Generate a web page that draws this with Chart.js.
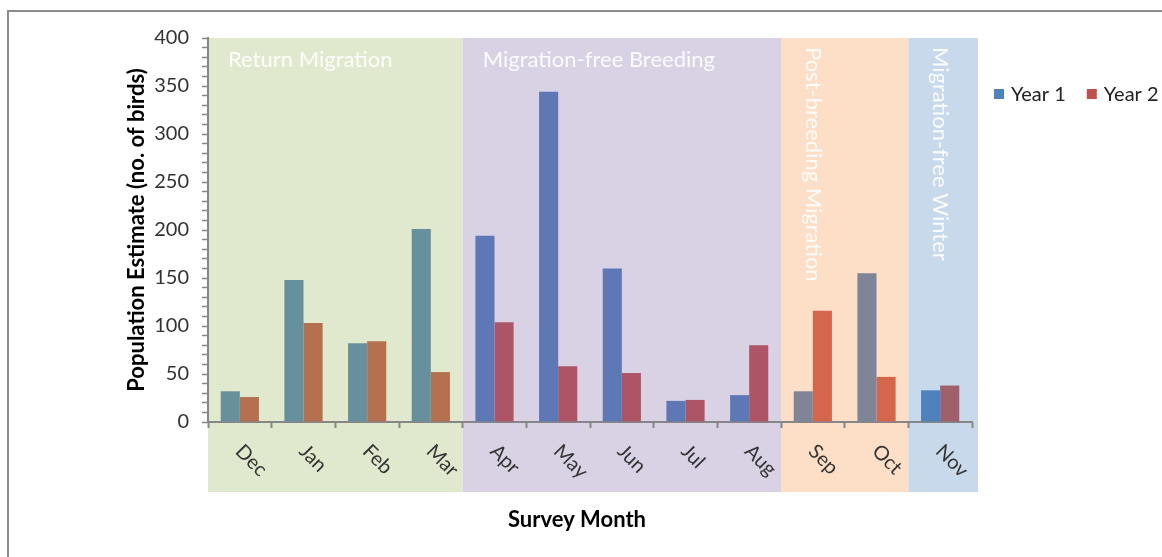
<!DOCTYPE html>
<html>
<head>
<meta charset="utf-8">
<title>Population estimate by survey month</title>
<script src="https://cdn.jsdelivr.net/npm/chart.js@4.4.1/dist/chart.umd.min.js"></script>
<style>
  body { margin: 0; background: #fff; }
  #wrap { width: 1162px; height: 557px; position: relative; }
</style>
</head>
<body>
<div id="wrap"><canvas id="birds-chart"></canvas></div>
<script>
const months = ['Dec', 'Jan', 'Feb', 'Mar', 'Apr', 'May', 'Jun', 'Jul', 'Aug', 'Sep', 'Oct', 'Nov'];
const year1 = [32, 148, 82, 201, 194, 344, 160, 22, 28, 32, 155, 33];
const year2 = [26, 103, 84, 52, 104, 58, 51, 23, 80, 116, 47, 38];
const seriesNames = ['Year 1', 'Year 2'];
const yTickLabels = [0, 50, 100, 150, 200, 250, 300, 350, 400];

// seasons, as first/last month index
const regionNames = ['Return Migration', 'Migration-free Breeding', 'Post-breeding Migration', 'Migration-free Winter'];
const regionFirst = [0, 4, 9, 11];
const regionLast = [3, 8, 10, 11];

// styles
const regionFill = ['#e0e9cd', '#d9d1e4', '#fddfc7', '#c9d9ec'];
const regionVertical = [false, false, true, true];
const year1Colors = ['#66909c', '#5e78b6', '#7f8596', '#4f81bd'];
const year2Colors = ['#b5704f', '#ad5466', '#d3664b', '#9f606c'];
const legendColors = ['#4f81bd', '#c0504d'];

const regionOf = months.map((m, i) => regionFirst.findIndex((f, r) => i >= f && i <= regionLast[r]));

Chart.defaults.font.family = 'Lato';

const seasonBands = {
  id: 'seasonBands',
  beforeDraw(chart) {
    const {ctx, chartArea, scales: {x}} = chart;
    const half = (x.getPixelForValue(1) - x.getPixelForValue(0)) / 2;
    ctx.save();
    ctx.strokeStyle = '#8c8c8c';
    ctx.lineWidth = 2;
    ctx.strokeRect(8, 11, chart.width + 20, chart.height + 20);

    regionNames.forEach((name, r) => {
      const left = x.getPixelForValue(regionFirst[r]) - half;
      let right = x.getPixelForValue(regionLast[r]) + half;
      if (r === regionNames.length - 1) right += 6;
      ctx.fillStyle = regionFill[r];
      ctx.fillRect(left, chartArea.top, right - left, 492 - chartArea.top);

      ctx.fillStyle = 'rgba(255,255,255,0.9)';
      ctx.font = '22px Lato';
      ctx.textBaseline = 'middle';
      ctx.textAlign = 'left';
      if (regionVertical[r]) {
        ctx.save();
        ctx.translate(left + 32, chartArea.top + 9);
        ctx.rotate(Math.PI / 2);
        ctx.fillText(name, 0, 0);
        ctx.restore();
      } else {
        ctx.fillText(name, left + 20, 60);
      }
    });
    ctx.restore();
  },
  afterDraw(chart) {
    const {ctx, chartArea, scales: {x}} = chart;
    ctx.save();
    // month labels, turned 45 degrees
    ctx.fillStyle = '#333';
    ctx.font = '20px Lato';
    ctx.textAlign = 'left';
    ctx.textBaseline = 'middle';
    months.forEach((m, i) => {
      ctx.save();
      ctx.translate(x.getPixelForValue(i) - 1, chartArea.bottom + 26);
      ctx.rotate(Math.PI / 4);
      ctx.fillText(m, 0, 0);
      ctx.restore();
    });

    ctx.fillStyle = '#000';
    ctx.font = 'bold 22px Lato';
    ctx.textAlign = 'center';
    ctx.fillText('Survey Month', 577, 520);

    // legend
    ctx.font = '20px Lato';
    ctx.textAlign = 'left';
    let lx = 994;
    seriesNames.forEach((s, i) => {
      ctx.fillStyle = legendColors[i];
      ctx.fillRect(lx, 89, 10, 10);
      ctx.fillStyle = '#222';
      ctx.fillText(s, lx + 17, 95);
      lx += 17 + ctx.measureText(s).width + 21;
    });
    ctx.restore();
  }
};

new Chart(document.querySelector('#birds-chart'), {
  type: 'bar',
  data: {
    labels: months,
    datasets: [{
      label: seriesNames[0],
      data: year1,
      backgroundColor: regionOf.map(r => year1Colors[r])
    }, {
      label: seriesNames[1],
      data: year2,
      backgroundColor: regionOf.map(r => year2Colors[r])
    }]
  },
  options: {
    responsive: true,
    maintainAspectRatio: false,
    animation: false,
    categoryPercentage: 0.6,
    barPercentage: 1.0,
    layout: { padding: { left: 113, top: 38, right: 190, bottom: 0 } },
    plugins: {
      legend: { display: false },
      tooltip: { enabled: false }
    },
    scales: {
      x: {
        afterFit: s => { s.height = 135; },
        grid: { drawOnChartArea: false, tickLength: 6, tickColor: '#868686', tickWidth: 2 },
        border: { color: '#868686', width: 2 },
        ticks: { display: false }
      },
      y: {
        min: 0,
        max: 400,
        afterFit: s => { s.width = 95; },
        grid: { drawOnChartArea: false, tickLength: 6, tickColor: '#868686', tickWidth: 1.5 },
        border: { color: '#868686', width: 2 },
        ticks: {
          stepSize: 10,
          autoSkip: false,
          padding: 13,
          color: '#333',
          font: { size: 20 },
          callback: v => yTickLabels.includes(v) ? v : ''
        },
        title: {
          display: true,
          text: 'Population Estimate (no. of birds)',
          color: '#000',
          font: { size: 22, weight: 'bold' },
          padding: { top: 11, bottom: 0 }
        }
      }
    }
  },
  plugins: [seasonBands]
});
</script>
</body>
</html>
